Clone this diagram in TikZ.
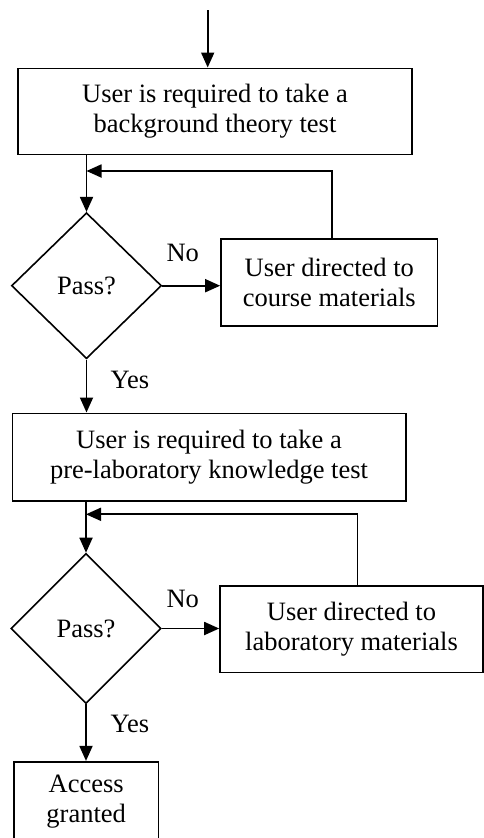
\documentclass[tikz,border=0pt]{standalone}
\usepackage{fontspec}
\setmainfont{Liberation Serif}
\usetikzlibrary{shapes.geometric,arrows.meta}
\begin{document}
\begin{tikzpicture}[x=1pt,y=-1pt,
  txt/.style={font=\fontsize{26.5}{30}\selectfont},
  box/.style={txt, draw, line width=1.6pt, inner sep=0pt, align=center},
  dec/.style={txt, draw, diamond, line width=1.6pt, inner sep=0pt},
  arr/.style={line width=1.8pt, -{Triangle[length=15pt,width=13pt]}}]
\useasboundingbox (0,0) rectangle (484,838);
\clip (0,0) rectangle (484,838);
% nodes
\node[box, minimum width=394pt, minimum height=86pt] (b1) at (215,111.3) {User is required to take a\\background theory test};
\node[dec, minimum width=150pt, minimum height=146pt] (d1) at (86.5,285.7) {Pass?};
\node[box, minimum width=216.7pt, minimum height=86.7pt] (b2) at (329.3,282.4) {User directed to\\course materials};
\node[box, minimum width=393.4pt, minimum height=87.4pt] (b3) at (209,457) {User is required to take a\\pre-laboratory knowledge test};
\node[dec, minimum width=150pt, minimum height=150pt] (d2) at (86,628.5) {Pass?};
\node[box, minimum width=263pt, minimum height=86.6pt] (b4) at (351.5,629) {User directed to\\laboratory materials};
\node[box, minimum width=144.3pt, minimum height=80pt] (b5) at (86.2,801.7) {Access\\granted};
% labels
\node[txt] (no1) at (182.7,253) {No};
\node[txt] (yes1) at (130,380) {Yes};
\node[txt] (no2) at (182.7,599) {No};
\node[txt] (yes2) at (130,724) {Yes};
% coordinates
\coordinate (start) at (207.7,10);
\coordinate (fb1) at (86.5,171);
\coordinate (fb2) at (86,514.3);
% connectors
\draw[arr] (start) -- (start |- b1.north);
\draw[arr] (d1.north |- b1.south) -- (d1.north);
\draw[arr] ([xshift=2.7pt]b2.north) |- (fb1);
\draw[arr] (d1.east) -- (d1.east -| b2.west);
\draw[arr] (d1.south) -- (d1.south |- b3.north);
\draw[arr] (d2.north |- b3.south) -- (d2.north);
\draw[arr] ([xshift=6pt]b4.north) |- (fb2);
\draw[arr] (d2.east) -- (d2.east -| b4.west);
\draw[arr] (d2.south) -- (d2.south |- b5.north);
\end{tikzpicture}
\end{document}
